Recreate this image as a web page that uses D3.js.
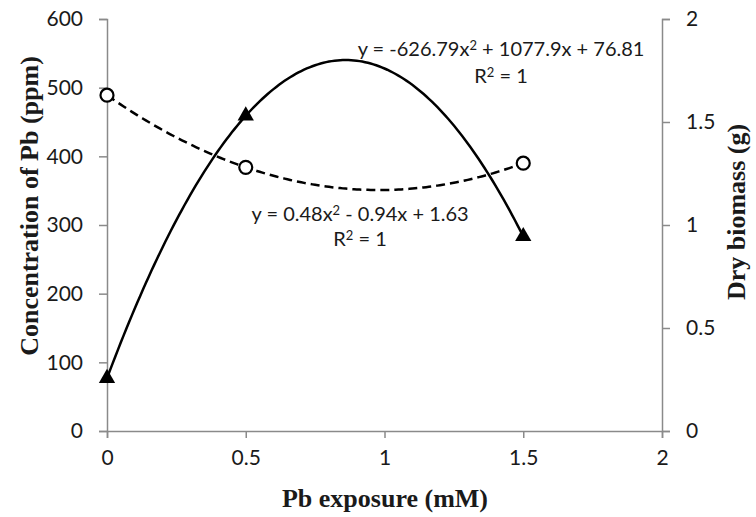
<!DOCTYPE html>
<html>
<head>
<meta charset="utf-8">
<script src="https://cdn.jsdelivr.net/npm/d3@7"></script>
<style>
  body { margin: 0; background: #fff; }
  svg { display: block; }
</style>
</head>
<body>
<div id="chart"></div>
<script>
// values
const exposure = [0, 0.5, 1.5];          // Pb exposure (mM)
const pbConc = [76.81, 459.06, 283.38];  // Concentration of Pb (ppm), left axis
const biomass = [1.63, 1.28, 1.30];      // Dry biomass (g), right axis
const pbFit = [-626.79, 1077.9, 76.81];  // quadratic trendline a, b, c
const bioFit = [0.48, -0.94, 1.63];
const xTicks = [0, 0.5, 1, 1.5, 2];
const leftTicks = [0, 100, 200, 300, 400, 500, 600];
const rightTicks = [0, 0.5, 1, 1.5, 2];

const width = 756, height = 517;
const margin = { top: 19, right: 94, bottom: 86, left: 107 };
const axisGrey = "#8a8a8a";
const tickFont = "Lato, 'Open Sans', sans-serif";
const titleFont = "'Liberation Serif', 'Times New Roman', serif";

const svg = d3.select("#chart")
  .append("svg")
  .attr("width", width)
  .attr("height", height);

const x = d3.scaleLinear().domain([0, 2]).range([margin.left, width - margin.right]);
const yL = d3.scaleLinear().domain([0, 600]).range([height - margin.bottom, margin.top]);
const yR = d3.scaleLinear().domain([0, 2]).range([height - margin.bottom, margin.top]);

function styleAxis(g) {
  g.selectAll("path, line").attr("stroke", axisGrey).attr("stroke-width", 1.5);
  g.selectAll("text")
    .attr("font-family", tickFont)
    .attr("font-size", 21)
    .attr("fill", "#1a1a1a");
}

svg.append("g")
  .attr("transform", "translate(0," + (height - margin.bottom) + ")")
  .call(d3.axisBottom(x).tickValues(xTicks).tickFormat(d3.format("")).tickSizeInner(7).tickSizeOuter(7).tickPadding(12))
  .call(styleAxis);

svg.append("g")
  .attr("transform", "translate(" + margin.left + ",0)")
  .call(d3.axisLeft(yL).tickValues(leftTicks).tickSizeInner(8).tickSizeOuter(8).tickPadding(16))
  .call(styleAxis);

svg.append("g")
  .attr("transform", "translate(" + (width - margin.right) + ",0)")
  .call(d3.axisRight(yR).tickValues(rightTicks).tickFormat(d3.format("")).tickSizeInner(8).tickSizeOuter(8).tickPadding(16))
  .call(styleAxis);

// trendlines
const poly = (c, v) => c[0] * v * v + c[1] * v + c[2];
const xs = d3.range(0, 1.5001, 0.01);

svg.append("path")
  .datum(xs)
  .attr("fill", "none")
  .attr("stroke", "#000")
  .attr("stroke-width", 2.5)
  .attr("d", d3.line().x(d => x(d)).y(d => yL(poly(pbFit, d))));

svg.append("path")
  .datum(xs)
  .attr("fill", "none")
  .attr("stroke", "#000")
  .attr("stroke-width", 2.5)
  .attr("stroke-dasharray", "9,5")
  .attr("d", d3.line().x(d => x(d)).y(d => yR(poly(bioFit, d))));

// markers
svg.selectAll(".tri")
  .data(exposure)
  .enter()
  .append("path")
  .attr("class", "tri")
  .attr("transform", (d, i) => "translate(" + x(d) + "," + yL(pbConc[i]) + ")")
  .attr("d", d3.symbol().type(d3.symbolTriangle).size(115))
  .attr("fill", "#000");

svg.selectAll(".circ")
  .data(exposure)
  .enter()
  .append("circle")
  .attr("class", "circ")
  .attr("cx", d => x(d))
  .attr("cy", (d, i) => yR(biomass[i]))
  .attr("r", 6.5)
  .attr("fill", "#fff")
  .attr("stroke", "#000")
  .attr("stroke-width", 2.2);

// trendline equations, each part is [text, superscript?]
const labels = [
  { parts: [["y = -626.79x", 0], ["2", 1], [" + 1077.9x + 76.81", 0]], x: 1.42, y: yL(546) },
  { parts: [["R", 0], ["2", 1], [" = 1", 0]], x: 1.42, y: yL(507) },
  { parts: [["y = 0.48x", 0], ["2", 1], [" - 0.94x + 1.63", 0]], x: 0.912, y: yR(1.02) },
  { parts: [["R", 0], ["2", 1], [" = 1", 0]], x: 0.912, y: yR(0.90) }
];

const eq = svg.selectAll(".eq")
  .data(labels)
  .enter()
  .append("text")
  .attr("class", "eq")
  .attr("x", d => x(d.x))
  .attr("y", d => d.y)
  .attr("text-anchor", "middle")
  .attr("font-family", tickFont)
  .attr("font-size", 20)
  .attr("fill", "#1a1a1a");

eq.selectAll("tspan")
  .data(d => d.parts)
  .enter()
  .append("tspan")
  .attr("font-size", p => p[1] ? 13 : null)
  .attr("baseline-shift", p => p[1] ? "6" : null)
  .text(p => p[0]);

// axis titles
svg.append("text")
  .attr("x", (margin.left + width - margin.right) / 2 + 0.5)
  .attr("y", 507)
  .attr("text-anchor", "middle")
  .attr("font-family", titleFont)
  .attr("font-weight", "bold")
  .attr("font-size", 26)
  .attr("fill", "#1a1a1a")
  .text("Pb exposure (mM)");

svg.append("text")
  .attr("transform", "translate(38,206) rotate(-90)")
  .attr("text-anchor", "middle")
  .attr("font-family", titleFont)
  .attr("font-weight", "bold")
  .attr("font-size", 26)
  .attr("fill", "#1a1a1a")
  .text("Concentration of Pb (ppm)");

svg.append("text")
  .attr("transform", "translate(745,212) rotate(-90)")
  .attr("text-anchor", "middle")
  .attr("font-family", titleFont)
  .attr("font-weight", "bold")
  .attr("font-size", 26)
  .attr("fill", "#1a1a1a")
  .text("Dry biomass (g)");
</script>
</body>
</html>
